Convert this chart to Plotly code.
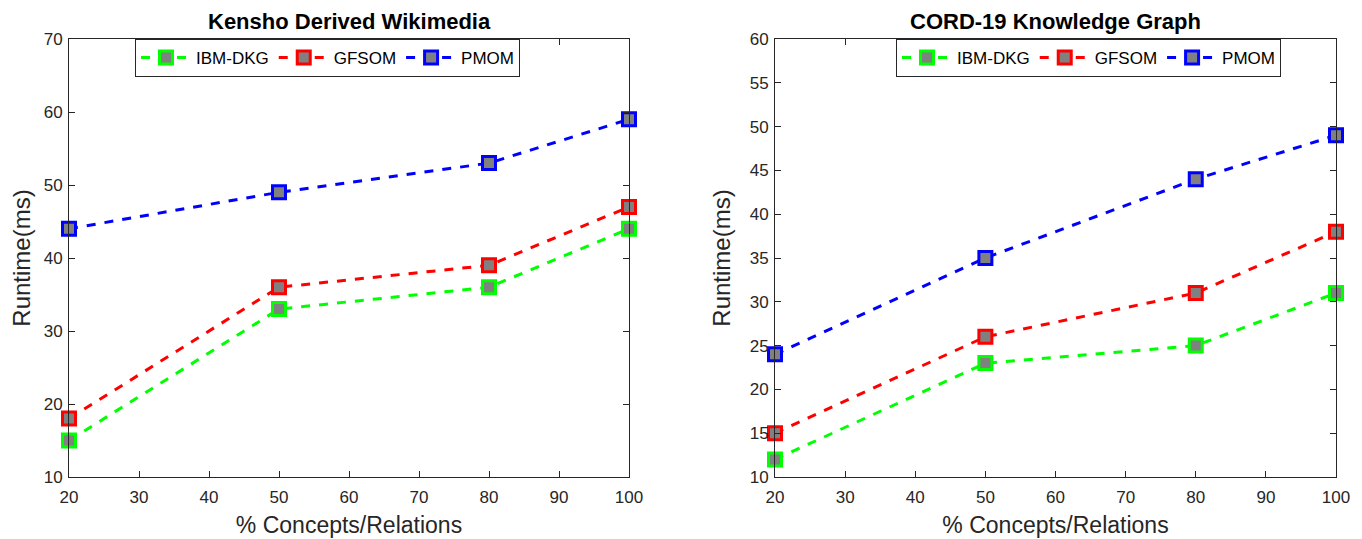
import plotly.graph_objects as go

x_vals = [20, 50, 80, 100]
series_names = ["IBM-DKG", "GFSOM", "PMOM"]
colors = ["#00ff00", "#ff0000", "#0000ff"]

kensho_ibm = [15, 33, 36, 44]
kensho_gfsom = [18, 36, 39, 47]
kensho_pmom = [44, 49, 53, 59]

cord_ibm = [12, 23, 25, 31]
cord_gfsom = [15, 26, 31, 38]
cord_pmom = [24, 35, 44, 49]

titles = ["Kensho Derived Wikimedia", "CORD-19 Knowledge Graph"]
x_ticks = [20, 30, 40, 50, 60, 70, 80, 90, 100]
left_yticks = [10, 20, 30, 40, 50, 60, 70]
right_yticks = [10, 15, 20, 25, 30, 35, 40, 45, 50, 55, 60]

# page body adds an 8px offset; figure sized to fit the window
OFF = 8
W, H = 1362 - OFF, 539 - OFF
font = "Liberation Sans, Arial, Helvetica, sans-serif"


def px_x(p):
    return (p - OFF) / W


def px_y(p):
    return 1 - (p - OFF) / H


fig = go.Figure()

panels = [
    ([kensho_ibm, kensho_gfsom, kensho_pmom], "x", "y", "legend"),
    ([cord_ibm, cord_gfsom, cord_pmom], "x2", "y2", "legend2"),
]
for data, xa, ya, lg in panels:
    for name, vals, c in zip(series_names, data, colors):
        fig.add_trace(go.Scatter(
            x=x_vals, y=vals, name=name, xaxis=xa, yaxis=ya, legend=lg,
            mode="lines+markers", cliponaxis=False,
            line=dict(color=c, width=3, dash="dash"),
            marker=dict(symbol="square", size=13, color="#808080",
                        line=dict(color=c, width=3)),
        ))

ydom = [px_y(477), px_y(39)]
xdom1 = [px_x(69), px_x(629)]
xdom2 = [px_x(775), px_x(1336)]

axis_common = dict(
    showline=True, linecolor="#262626", linewidth=1, mirror="ticks",
    ticks="inside", ticklen=6, tickcolor="#262626",
    showgrid=False, zeroline=False, automargin=False,
    tickfont=dict(family=font, size=17, color="#262626"),
)
xtitle = dict(text="% Concepts/Relations", font=dict(size=23, color="#262626"), standoff=10)
ytitle = dict(text="Runtime(ms)", font=dict(size=24, color="#262626"), standoff=12)

legend_common = dict(orientation="h", yanchor="top", xanchor="left",
                     bordercolor="#262626", borderwidth=1, bgcolor="white",
                     font=dict(family=font, size=17, color="#000000"),
                     itemwidth=50, tracegroupgap=0)

fig.update_layout(
    width=W, height=H,
    margin=dict(l=0, r=0, t=0, b=0, autoexpand=False),
    paper_bgcolor="white", plot_bgcolor="white",
    font=dict(family=font, color="#262626"),
    xaxis=dict(domain=xdom1, range=[20, 100], tickvals=x_ticks, anchor="y",
               ticklabelstandoff=5, title=xtitle, **axis_common),
    yaxis=dict(domain=ydom, range=[10, 70], tickvals=left_yticks, anchor="x",
               ticklabelstandoff=2, title=ytitle, **axis_common),
    xaxis2=dict(domain=xdom2, range=[20, 100], tickvals=x_ticks, anchor="y2",
                ticklabelstandoff=5, title=xtitle, **axis_common),
    yaxis2=dict(domain=ydom, range=[10, 60], tickvals=right_yticks, anchor="x2",
                ticklabelstandoff=2, title=ytitle, **axis_common),
    legend=dict(x=px_x(135), y=ydom[1], **legend_common),
    legend2=dict(x=px_x(896), y=ydom[1], **legend_common),
    annotations=[
        dict(text="<b>%s</b>" % titles[0], x=(xdom1[0] + xdom1[1]) / 2, y=px_y(21),
             xref="paper", yref="paper", showarrow=False, xanchor="center", yanchor="middle",
             font=dict(family=font, size=22, color="#000000")),
        dict(text="<b>%s</b>" % titles[1], x=(xdom2[0] + xdom2[1]) / 2, y=px_y(21),
             xref="paper", yref="paper", showarrow=False, xanchor="center", yanchor="middle",
             font=dict(family=font, size=22, color="#000000")),
    ],
)

fig.write_html("out.html")
